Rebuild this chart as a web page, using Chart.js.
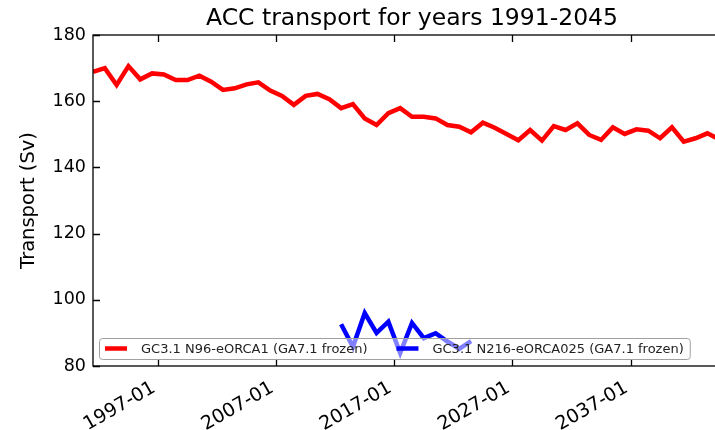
<!DOCTYPE html>
<html>
<head>
<meta charset="utf-8">
<script src="https://cdn.jsdelivr.net/npm/chart.js@4/dist/chart.umd.min.js"></script>
<style>
  html, body { margin: 0; padding: 0; background: #fff; overflow: hidden; width: 715px; height: 430px; }
  canvas { display: block; }
</style>
</head>
<body>
<canvas id="acc" width="760" height="430"></canvas>
<script>
// Annual-mean ACC transport (Sv), one value per model year
const years = [
  1991, 1992, 1993, 1994, 1995, 1996, 1997, 1998, 1999, 2000,
  2001, 2002, 2003, 2004, 2005, 2006, 2007, 2008, 2009, 2010,
  2011, 2012, 2013, 2014, 2015, 2016, 2017, 2018, 2019, 2020,
  2021, 2022, 2023, 2024, 2025, 2026, 2027, 2028, 2029, 2030,
  2031, 2032, 2033, 2034, 2035, 2036, 2037, 2038, 2039, 2040,
  2041, 2042, 2043, 2044, 2045
];
const transportN96 = [
  168.9, 170.0, 164.9, 170.6, 166.6, 168.4, 168.1, 166.4, 166.4, 167.7,
  165.9, 163.4, 163.9, 165.1, 165.7, 163.2, 161.6, 158.9, 161.6, 162.2,
  160.6, 157.9, 159.1, 154.8, 152.8, 156.4, 157.9, 155.3, 155.3, 154.8,
  152.8, 152.3, 150.6, 153.5, 152.0, 150.1, 148.2, 151.3, 148.1, 152.5,
  151.3, 153.3, 149.8, 148.3, 152.1, 150.1, 151.5, 151.1, 148.8, 152.1,
  147.8, 148.8, 150.3, 148.5, 149.5
];
const yearsN216 = [2012, 2013, 2014, 2015, 2016, 2017, 2018, 2019, 2020, 2021, 2022, 2023];
const transportN216 = [92.6, 85.8, 96.0, 90.0, 93.4, 83.9, 93.0, 88.4, 89.9, 87.4, 85.2, 87.5];

const seriesLabels = ['GC3.1 N96-eORCA1 (GA7.1 frozen)', 'GC3.1 N216-eORCA025 (GA7.1 frozen)'];
const seriesColors = ['#ff0000', '#0000ff'];
const xTickYears = [1997, 2007, 2017, 2027, 2037];
const yTickValues = [80, 100, 120, 140, 160, 180];
const titleText = 'ACC transport for years 1991-2045';
const yAxisLabel = 'Transport (Sv)';

const FONT = 'DejaVu Sans';
const MID_YEAR = 0.5; // annual means sit at the middle of each year
const LINE_W = 4.5;

const toPoints = (ys, vals) => ys.map((yr, i) => ({ x: yr + MID_YEAR, y: vals[i] }));

// Spines with inward-pointing tick marks on every side
const frame = {
  id: 'frame',
  afterDatasetsDraw(chart) {
    const { ctx, chartArea: a, scales: { x, y } } = chart;
    const tl = 7;
    ctx.save();
    ctx.strokeStyle = '#000';
    ctx.lineWidth = 1.3;
    ctx.beginPath();
    xTickYears.forEach(v => {
      const px = Math.round(x.getPixelForValue(v)) + 0.5;
      ctx.moveTo(px, a.bottom); ctx.lineTo(px, a.bottom - tl);
      ctx.moveTo(px, a.top); ctx.lineTo(px, a.top + tl);
    });
    yTickValues.forEach(v => {
      const py = Math.round(y.getPixelForValue(v)) + 0.5;
      ctx.moveTo(a.left, py); ctx.lineTo(a.left + tl, py);
      ctx.moveTo(a.right, py); ctx.lineTo(a.right - tl, py);
    });
    ctx.stroke();
    ctx.strokeRect(a.left, a.top, a.right - a.left, a.bottom - a.top);
    ctx.restore();
  }
};

// Single-row legend in the lower-left corner of the plot
const insetLegend = {
  id: 'insetLegend',
  afterDraw(chart) {
    const { ctx, chartArea: a } = chart;
    const sets = chart.data.datasets;
    const h = 21;
    const x0 = a.left + 6;
    const y1 = a.bottom - 7;
    const y0 = y1 - h;
    const cy = y0 + h / 2;
    ctx.save();
    ctx.font = '13px "' + FONT + '"';
    const entries = [];
    let cx = x0 + 6;
    sets.forEach(ds => {
      const textX = cx + 36;
      const w = ctx.measureText(ds.label).width;
      entries.push({ sx: cx, tx: textX, color: ds.borderColor, label: ds.label });
      cx = textX + w + 29;
    });
    const last = entries[entries.length - 1];
    const x1 = last.tx + ctx.measureText(last.label).width + 6;
    ctx.beginPath();
    if (ctx.roundRect) ctx.roundRect(x0 + 0.5, y0 + 0.5, x1 - x0, h, 3);
    else ctx.rect(x0 + 0.5, y0 + 0.5, x1 - x0, h);
    ctx.fillStyle = 'rgba(255,255,255,0.5)';
    ctx.fill();
    ctx.strokeStyle = '#a0a0a0';
    ctx.lineWidth = 1;
    ctx.stroke();
    entries.forEach(e => {
      ctx.strokeStyle = e.color;
      ctx.lineWidth = LINE_W;
      ctx.beginPath();
      ctx.moveTo(e.sx, cy);
      ctx.lineTo(e.sx + 22, cy);
      ctx.stroke();
      ctx.fillStyle = '#222';
      ctx.textAlign = 'left';
      ctx.textBaseline = 'middle';
      ctx.fillText(e.label, e.tx, cy + 1);
    });
    ctx.restore();
  }
};

new Chart(document.getElementById('acc'), {
  type: 'line',
  data: {
    datasets: [
      {
        label: seriesLabels[0],
        data: toPoints(years, transportN96),
        borderColor: seriesColors[0],
        borderWidth: LINE_W,
        pointRadius: 0,
        tension: 0,
        fill: false
      },
      {
        label: seriesLabels[1],
        data: toPoints(yearsN216, transportN216),
        borderColor: seriesColors[1],
        borderWidth: LINE_W,
        pointRadius: 0,
        tension: 0,
        fill: false
      }
    ]
  },
  options: {
    responsive: false,
    animation: false,
    devicePixelRatio: 1,
    layout: { padding: { left: 0, right: 29, top: 0, bottom: 0 } },
    plugins: {
      legend: { display: false },
      tooltip: { enabled: false },
      title: {
        display: true,
        text: titleText,
        fullSize: false,
        color: '#000',
        font: { family: FONT, size: 23.5, weight: 'normal' },
        padding: { top: 4.5, bottom: 2.3 }
      }
    },
    scales: {
      x: {
        type: 'linear',
        min: years[0] + MID_YEAR,
        max: years[years.length - 1] + MID_YEAR,
        afterBuildTicks: s => { s.ticks = xTickYears.map(v => ({ value: v })); },
        afterFit: s => { s.height = 64; },
        grid: { display: false, drawTicks: false },
        border: { display: false },
        ticks: {
          autoSkip: false,
          minRotation: 30,
          maxRotation: 30,
          padding: 10.7,
          labelOffset: -4,
          color: '#000',
          font: { family: FONT, size: 19 },
          callback: v => v + '-01'
        }
      },
      y: {
        min: 80,
        max: 180,
        afterBuildTicks: s => { s.ticks = yTickValues.map(v => ({ value: v })); },
        afterFit: s => { s.width = 93; },
        grid: { display: false, drawTicks: false },
        border: { display: false },
        ticks: {
          padding: 7,
          color: '#000',
          font: { family: FONT, size: 17.5 }
        },
        title: {
          display: true,
          text: yAxisLabel,
          color: '#000',
          font: { family: FONT, size: 19.5 },
          padding: { top: 17.3, bottom: 0 }
        }
      }
    }
  },
  plugins: [frame, insetLegend]
});
</script>
</body>
</html>
